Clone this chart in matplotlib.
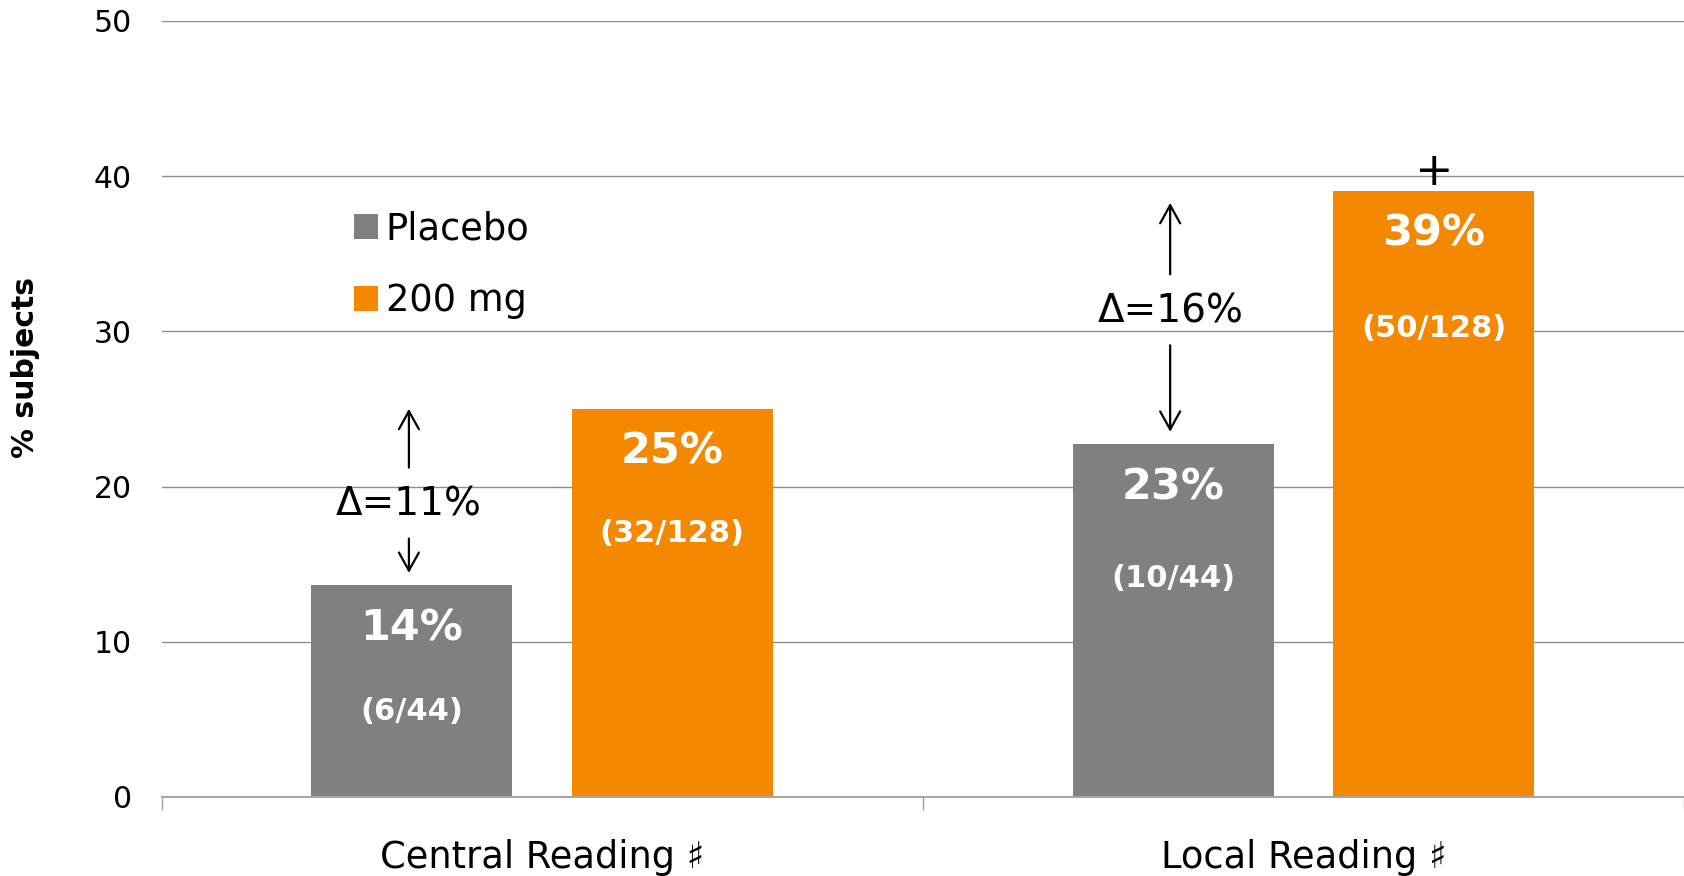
import matplotlib
matplotlib.use("Agg")
import matplotlib.pyplot as plt
from matplotlib.patches import Patch
from matplotlib.ticker import FixedLocator
import numpy as np

# ---------------- data ----------------
categories = ["Central Reading \u266f", "Local Reading \u266f"]
series_names = ["Placebo", "200 mg"]
placebo_responders = [6, 10]
placebo_n = [44, 44]
dose_responders = [32, 50]
dose_n = [128, 128]
significance = ["", "+"]
y_ticks = [0, 10, 20, 30, 40, 50]

# ---------------- style / layout ----------------
C_PLACEBO = "#808080"
C_DOSE = "#F48800"
GRID = "#8c8c8c"
W, H, DPI = 1684, 876, 100
FONT = "DejaVu Sans"
plt.rcParams["font.family"] = [FONT]

placebo_pct = [100 * r / n for r, n in zip(placebo_responders, placebo_n)]
dose_pct = [100 * r / n for r, n in zip(dose_responders, dose_n)]

fig = plt.figure(figsize=(W / DPI, H / DPI), dpi=DPI)
ax_left, ax_right = 161.5, 1684
ax_top, ax_bot = 20.75, 797
ax = fig.add_axes([ax_left / W, (H - ax_bot) / H, (ax_right - ax_left) / W, (ax_bot - ax_top) / H])

px_per_unit = (ax_bot - ax_top) / 50.0
pt = 72.0 / DPI  # points per pixel

x = np.arange(len(categories))
off, width = 0.171, 0.264
b1 = ax.bar(x - off, placebo_pct, width, color=C_PLACEBO, label=series_names[0], zorder=2)
b2 = ax.bar(x + off, dose_pct, width, color=C_DOSE, label=series_names[1], zorder=2)

ax.set_xlim(-0.5, len(categories) - 0.5)
ax.set_ylim(0, 50)
ax.set_yticks(y_ticks)
ax.set_yticklabels([str(t) for t in y_ticks], fontsize=21.5)
ax.tick_params(axis="y", length=0, pad=21.5)
ax.yaxis.grid(True, color=GRID, lw=1.0)
ax.set_axisbelow(True)

ax.set_xticks(x)
ax.set_xticklabels(categories, fontsize=26.5)
ax.tick_params(axis="x", which="major", length=0, pad=30)
ax.xaxis.set_minor_locator(FixedLocator(np.arange(-0.5, len(categories), 1.0)))
ax.tick_params(axis="x", which="minor", length=9.4, width=1.0, color="#a0a0a0", direction="out")

for s in ["left", "top", "right"]:
    ax.spines[s].set_visible(False)
ax.spines["bottom"].set_color("#a6a6a6")
ax.spines["bottom"].set_linewidth(1.5)

ax.set_ylabel("% subjects", fontsize=21.5, fontweight="bold")
ax.yaxis.label.set_verticalalignment("center")
ax.yaxis.set_label_coords(-(ax_left - 25.5) / (ax_right - ax_left), (ax_bot - 367.5) / (ax_bot - ax_top))

# value labels inside bars
frac_offsets_px = [[126.5, 124.4], [134.2, 137.7]]
for i in range(len(categories)):
    for j, (pct, r, n, cx) in enumerate([
        (placebo_pct[i], placebo_responders[i], placebo_n[i], x[i] - off),
        (dose_pct[i], dose_responders[i], dose_n[i], x[i] + off),
    ]):
        ax.annotate(f"{round(pct)}%", xy=(cx, pct), xytext=(0, -55 * pt), textcoords="offset points",
                    ha="center", va="baseline", color="white", fontsize=31, fontweight="bold", zorder=3)
        ax.annotate(f"({r}/{n})", xy=(cx, pct), xytext=(0, -frac_offsets_px[i][j] * pt),
                    textcoords="offset points", ha="center", va="center", color="white",
                    fontsize=22, fontweight="bold", zorder=3)

# delta annotations with arrows
up_gap = [0.0, 0.8]
delta_center_px = [504.6, 311.3]
for i in range(len(categories)):
    p, d = placebo_pct[i], dose_pct[i]
    delta = round(d) - round(p)
    xc = x[i] - 0.175
    up_tip = d - up_gap[i]
    down_tip = p + 0.8
    center = (ax_bot - delta_center_px[i]) / px_per_unit
    ax.text(xc, center, f"\u0394={delta}%", ha="center", va="center", fontsize=28, zorder=3)
    ap = dict(arrowstyle="->,head_length=0.65,head_width=0.36", lw=1.6, color="black",
              shrinkA=0, shrinkB=0, mutation_scale=20)
    ax.annotate("", xy=(xc, up_tip), xytext=(xc, center + 37 / px_per_unit), arrowprops=ap)
    ax.annotate("", xy=(xc, down_tip), xytext=(xc, center - 34 / px_per_unit), arrowprops=ap)

# significance marker
for i, mark in enumerate(significance):
    if mark:
        ax.annotate(mark, xy=(x[i] + off, dose_pct[i]), xytext=(0, 18 * pt), textcoords="offset points",
                    ha="center", va="center", fontsize=33, color="black")

# legend
handles = [Patch(facecolor=C_PLACEBO, edgecolor="none"), Patch(facecolor=C_DOSE, edgecolor="none")]
leg = ax.legend(handles, series_names, loc="upper left",
                bbox_to_anchor=((354 - ax_left) / (ax_right - ax_left), (ax_bot - 210.5) / (ax_bot - ax_top)),
                frameon=False, fontsize=26.5, handlelength=0.65, handleheight=0.65,
                handletextpad=0.21, labelspacing=0.95, borderpad=0, borderaxespad=0)

fig.savefig("out.png", dpi=DPI)
